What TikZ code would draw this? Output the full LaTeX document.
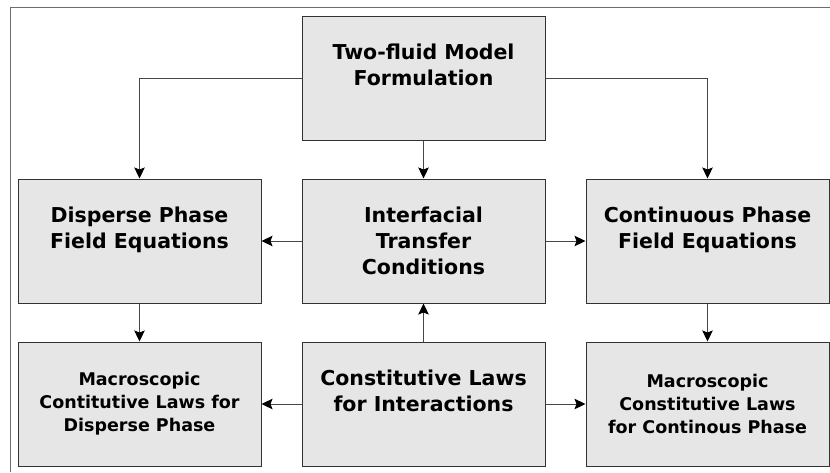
\documentclass[tikz,border=0pt]{standalone}
\usepackage{fontspec}
\setmainfont{DejaVu Sans}
\usepackage{xcolor}
\usepackage{tikz}
\usetikzlibrary{positioning,arrows.meta}
\definecolor{boxfill}{RGB}{230,230,230}
\definecolor{boxline}{RGB}{50,50,50}
\definecolor{linkgray}{RGB}{70,70,70}
\definecolor{framegray}{RGB}{110,110,110}
\tikzset{
  model-node/.style={draw=boxline, fill=boxfill, line width=1pt,
    minimum width=243pt, minimum height=124pt, inner sep=0pt, align=center,
    font=\fontsize{20.5}{26}\selectfont\bfseries},
  law-node/.style={model-node, font=\fontsize{17.5}{23}\selectfont\bfseries},
  flow-arrow/.style={-{Stealth[length=11pt, width=10.5pt, inset=2pt, color=black]}, line width=0.9pt, draw=linkgray}
}

\begin{document}
\begin{tikzpicture}[x=1pt, y=-1pt, node distance=38pt and 40pt]
\useasboundingbox (0,0) rectangle (830,472);
% outer frame
\draw[framegray, line width=0.8pt] (10,472) -- (10,7) -- (830,7);

% Top node
\node[model-node] (model) at (423.5,78) {Two-fluid Model\\Formulation\\\mbox{}};

% Field equations row
\node[model-node, below=of model] (transfer) {Interfacial\\Transfer\\Conditions};
\node[model-node, left=of transfer] (disperse) {Disperse Phase\\Field Equations\\\mbox{}};
\node[model-node, right=of transfer] (continuous) {Continuous Phase\\Field Equations\\\mbox{}};

% Constitutive laws row
\node[model-node, below=of transfer] (interactions) {Constitutive Laws\\for Interactions\\\mbox{}};
\node[law-node, below=of disperse] (macro-disperse) {Macroscopic\\Contitutive Laws for\\Disperse Phase};
\node[law-node, below=of continuous] (macro-continuous) {Macroscopic\\Constitutive Laws\\for Continous Phase};

% Arrows from the formulation
\draw[flow-arrow] (model.west) -| (disperse.north);
\draw[flow-arrow] (model.east) -| (continuous.north);
\draw[flow-arrow] (model.south) -- (transfer.north);

% Arrows between rows
\draw[flow-arrow] (transfer.west) -- (disperse.east);
\draw[flow-arrow] (transfer.east) -- (continuous.west);
\draw[flow-arrow] (disperse.south) -- (macro-disperse.north);
\draw[flow-arrow] (continuous.south) -- (macro-continuous.north);
\draw[flow-arrow] (interactions.north) -- (transfer.south);
\draw[flow-arrow] (interactions.west) -- (macro-disperse.east);
\draw[flow-arrow] (interactions.east) -- (macro-continuous.west);
\end{tikzpicture}
\end{document}
